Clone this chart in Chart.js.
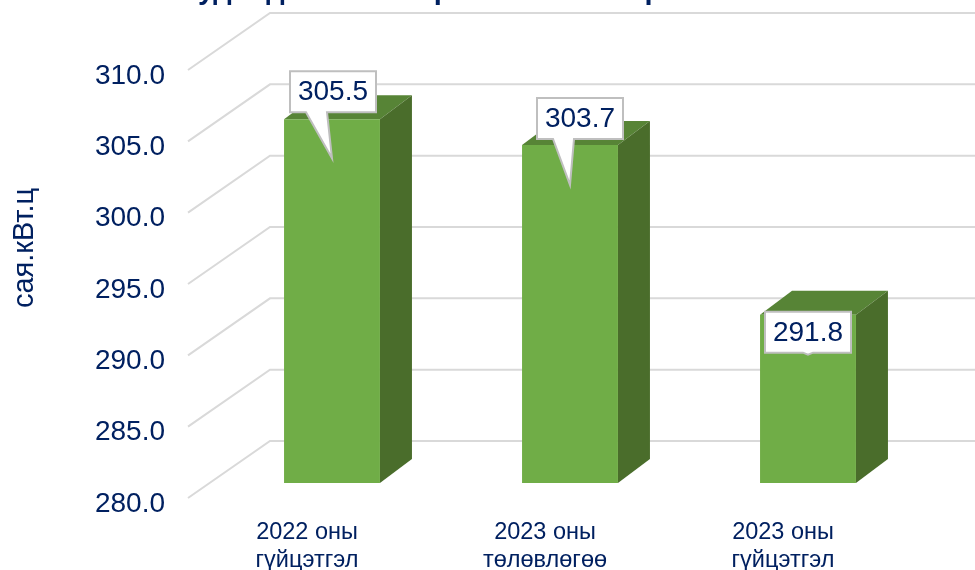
<!DOCTYPE html>
<html><head><meta charset="utf-8">
<style>html,body{margin:0;padding:0;background:#fff}#w{width:975px;height:570px}</style>
<script src="https://cdn.jsdelivr.net/npm/chart.js@4"></script></head>
<body><div id="w"><canvas id="c"></canvas></div>
<script>
const categories=[["2022 оны","гүйцэтгэл"],["2023 оны","төлөвлөгөө"],["2023 оны","гүйцэтгэл"]];
const values=[305.5,303.7,291.8];
const labels3=["305.5","303.7","291.8"];
const axisTitle="сая.кВт.ц";
const title="Худалдан авсан эрчим хэмжээ эрчим";
const NAVY="#002060";
const DX=82,DY=57,LIFT=15,BX=32,BY=24,FONT='"Liberation Sans"';
const calloutStyle=[{top:48,shift:1,tip:39},{top:47,shift:10,tip:40},{top:3,shift:0,tip:40}];
const deco={id:'deco',
 beforeDatasetsDraw(ch){const {ctx,scales:{y}}=ch;
  ctx.save();ctx.strokeStyle='#d9d9d9';ctx.lineWidth=2;
  y.ticks.forEach(t=>{const p=y.getPixelForValue(t.value);
   ctx.beginPath();ctx.moveTo(188,p);ctx.lineTo(188+DX,p-DY);ctx.lineTo(975,p-DY);ctx.stroke();});
  ctx.restore();
  ctx.save();ctx.fillStyle=NAVY;ctx.font='bold 29px '+FONT;ctx.textBaseline='alphabetic';ctx.fillText(title,179,-1);ctx.restore();
  ctx.save();ctx.fillStyle=NAVY;ctx.font='29px '+FONT;ctx.textAlign='center';ctx.textBaseline='middle';ctx.translate(25,248);ctx.rotate(-Math.PI/2);ctx.fillText(axisTitle,0,0);ctx.restore();
  const base=y.getPixelForValue(y.min);
  ctx.save();ctx.translate(0,-LIFT);
  ch.getDatasetMeta(0).data.forEach(b=>{const l=b.x-b.width/2,r=b.x+b.width/2;
   ctx.fillStyle='#578436';ctx.beginPath();ctx.moveTo(l,b.y);ctx.lineTo(l+BX,b.y-BY);ctx.lineTo(r+BX,b.y-BY);ctx.lineTo(r,b.y);ctx.closePath();ctx.fill();
   ctx.fillStyle='#4a6d2b';ctx.beginPath();ctx.moveTo(r,b.y);ctx.lineTo(r+BX,b.y-BY);ctx.lineTo(r+BX,base-BY);ctx.lineTo(r,base);ctx.closePath();ctx.fill();
  });
 },
 afterDatasetsDraw(ch){const {ctx}=ch;ctx.restore();
  ctx.save();
  ch.getDatasetMeta(0).data.forEach((b,i)=>{const s=calloutStyle[i],ty=b.y-LIFT;
   const cx=b.x+s.shift,x0=cx-43,x1=cx+43,y0=ty-s.top,y1=y0+41;
   const tx=b.x,ty2=i==2?y1+2:ty+s.tip;
   ctx.beginPath();ctx.moveTo(x0,y0);ctx.lineTo(x1,y0);ctx.lineTo(x1,y1);
   if(i==2){ctx.lineTo(tx+5,y1);ctx.lineTo(tx,ty2);ctx.lineTo(tx-5,y1);}
   else{ctx.lineTo(x0+37,y1);ctx.lineTo(tx,ty2);ctx.lineTo(x0+16,y1);}
   ctx.lineTo(x0,y1);ctx.closePath();
   ctx.fillStyle='#fff';ctx.fill();ctx.strokeStyle='#bfbfbf';ctx.lineWidth=2;ctx.stroke();
   ctx.fillStyle=NAVY;ctx.font='28px '+FONT;ctx.textAlign='center';ctx.textBaseline='middle';
   ctx.fillText(labels3[i],cx,(y0+y1)/2+1);
  });
  ctx.restore();
 }};
new Chart(document.getElementById('c'),{type:'bar',
 data:{labels:categories,datasets:[{data:values,backgroundColor:'#70ad47',borderWidth:0,categoryPercentage:0.403,barPercentage:1}]},
 options:{responsive:true,maintainAspectRatio:false,animation:false,
  layout:{padding:{left:0,right:48,top:70,bottom:0}},
  plugins:{legend:{display:false},tooltip:{enabled:false},title:{display:false}},
  scales:{
   x:{grid:{display:false},border:{display:false},
      afterFit(s){s.height=72;},
      ticks:{color:NAVY,font:{family:FONT,size:23.5},padding:12,labelOffset:-25,maxRotation:0,autoSkip:false}},
   y:{min:280,max:310,grid:{display:false},border:{display:false},
      afterFit(s){s.width=213;},
      ticks:{stepSize:5,color:NAVY,font:{family:FONT,size:28},padding:40,labelOffset:6,callback:v=>v.toFixed(1)}}
  }},
 plugins:[deco]});
</script></body></html>
